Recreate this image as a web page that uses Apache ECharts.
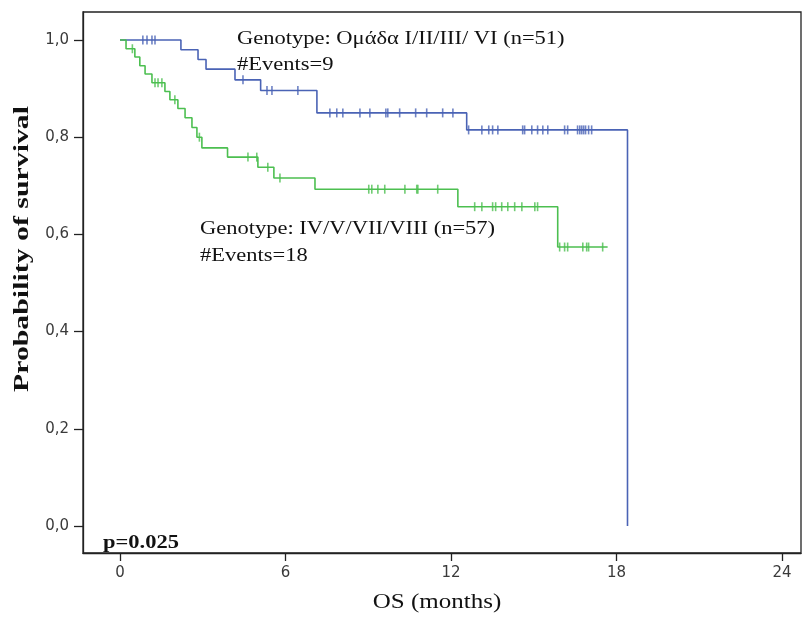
<!DOCTYPE html>
<html>
<head>
<meta charset="utf-8">
<script src="https://cdn.jsdelivr.net/npm/echarts@6/dist/echarts.min.js"></script>
<style>
html, body { margin: 0; padding: 0; background: #fff; }
#chart { width: 804px; height: 617px; }
</style>
</head>
<body>
<div id="chart"></div>
<script>
// tick values
var xTicks = [0, 6, 12, 18, 24];
var yTicks = [0, 0.2, 0.4, 0.6, 0.8, 1.0];

// group I/II/III/VI (blue) - survival steps [months, survival]
var blueSteps = [[0, 1], [2.21, 0.98], [2.83, 0.96], [3.12, 0.94], [4.17, 0.918], [5.1, 0.896],
  [7.14, 0.85], [12.57, 0.815], [18.4, 0]];
// censored cases
var blueCensored = [[0.83, 1], [0.98, 1], [1.16, 1], [1.27, 1], [4.46, 0.918],
  [5.33, 0.896], [5.51, 0.896], [6.45, 0.896],
  [7.61, 0.85], [7.86, 0.85], [8.08, 0.85], [8.7, 0.85], [9.06, 0.85], [9.64, 0.85], [9.71, 0.85],
  [10.14, 0.85], [10.72, 0.85], [11.12, 0.85], [11.7, 0.85], [12.07, 0.85],
  [12.64, 0.815], [13.12, 0.815], [13.37, 0.815], [13.51, 0.815], [13.7, 0.815], [14.6, 0.815],
  [14.67, 0.815], [14.93, 0.815], [15.14, 0.815], [15.33, 0.815], [15.51, 0.815], [16.12, 0.815],
  [16.23, 0.815], [16.59, 0.815], [16.67, 0.815], [16.74, 0.815], [16.81, 0.815], [16.88, 0.815],
  [16.99, 0.815], [17.1, 0.815]];

// group IV/V/VII/VIII (green)
var greenSteps = [[0, 1], [0.22, 0.982], [0.54, 0.965], [0.72, 0.947], [0.91, 0.93], [1.16, 0.912],
  [1.63, 0.894], [1.81, 0.877], [2.1, 0.859], [2.36, 0.84], [2.61, 0.82], [2.79, 0.8], [2.97, 0.778],
  [3.9, 0.759], [5.0, 0.738], [5.58, 0.716], [7.07, 0.693], [12.25, 0.657], [15.87, 0.574], [17.68, 0.574]];
var greenCensored = [[0.45, 0.982], [1.27, 0.912], [1.38, 0.912], [1.52, 0.912], [1.99, 0.877],
  [2.88, 0.8], [4.64, 0.759], [4.96, 0.759], [5.36, 0.738], [5.8, 0.716],
  [9.02, 0.693], [9.13, 0.693], [9.35, 0.693], [9.6, 0.693], [10.33, 0.693], [10.76, 0.693],
  [10.8, 0.693], [11.52, 0.693],
  [12.86, 0.657], [13.12, 0.657], [13.51, 0.657], [13.62, 0.657], [13.84, 0.657], [14.06, 0.657],
  [14.31, 0.657], [14.57, 0.657], [15.04, 0.657], [15.14, 0.657],
  [15.94, 0.574], [16.12, 0.574], [16.23, 0.574], [16.78, 0.574], [16.92, 0.574], [16.99, 0.574],
  [17.5, 0.574]];

var BLUE = '#4a63b5';
var GREEN = '#4cbf50';
var serif = '"Liberation Serif", "Times New Roman", serif';
var tickFont = '"DejaVu Sans", sans-serif';

// the original picture is stretched sideways, so the texts are widened a bit
function label(text, x, y, font, opts) {
  return Object.assign({
    type: 'text', x: x, y: y, scaleX: 1.25,
    style: { text: text, font: font, fill: '#111', textAlign: 'left', textVerticalAlign: 'middle' }
  }, opts || {});
}

var chart = echarts.init(document.getElementById('chart'));
chart.setOption({
  animation: false,
  grid: {
    left: 83, top: 12, right: 3, bottom: 64,
    show: true, borderColor: '#222', borderWidth: 1.3
  },
  xAxis: {
    type: 'value',
    min: -1.34, max: 24.69,
    axisLine: { show: true, onZero: false, lineStyle: { color: '#222', width: 1.3 } },
    splitLine: { show: false },
    axisTick: { show: true, length: 8, customValues: xTicks, lineStyle: { color: '#222', width: 1.3 } },
    axisLabel: { customValues: xTicks, color: '#3a3a3a', fontSize: 15, fontFamily: tickFont, margin: 13 }
  },
  yAxis: {
    type: 'value',
    min: -0.0556, max: 1.0576,
    axisLine: { show: true, onZero: false, lineStyle: { color: '#222', width: 1.3 } },
    splitLine: { show: false },
    axisTick: { show: true, length: 9, customValues: yTicks, lineStyle: { color: '#222', width: 1.3 } },
    axisLabel: {
      customValues: yTicks, color: '#3a3a3a', fontSize: 15, margin: 14, fontFamily: tickFont,
      formatter: function (v) { return v.toFixed(1).replace('.', ','); }
    }
  },
  series: [
    {
      type: 'line', step: 'end', data: blueSteps, symbol: 'none',
      lineStyle: { color: BLUE, width: 1.6 }
    },
    {
      type: 'line', step: 'end', data: greenSteps, symbol: 'none',
      lineStyle: { color: GREEN, width: 1.6 }
    },
    {
      type: 'scatter', data: blueCensored, symbol: 'rect', symbolSize: [1.6, 9],
      itemStyle: { color: BLUE }
    },
    {
      type: 'scatter', data: greenCensored, symbol: 'rect', symbolSize: [1.6, 9],
      itemStyle: { color: GREEN }
    }
  ],
  graphic: [
    label('Genotype: Ομάδα I/II/III/ VI (n=51)', 237, 39, '18px ' + serif),
    label('#Events=9', 237, 65, '18px ' + serif),
    label('Genotype: IV/V/VII/VIII (n=57)', 200, 229, '18px ' + serif),
    label('#Events=18', 200, 256, '18px ' + serif),
    label('p=0.025', 103, 543, 'bold 18px ' + serif),
    // axis titles
    label('OS (months)', 437, 603, '20px ' + serif, { style: { text: 'OS (months)', font: '20px ' + serif, fill: '#111', textAlign: 'center', textVerticalAlign: 'middle' } }),
    label('Probability of survival', 23, 249, 'bold 21px ' + serif, {
      rotation: Math.PI / 2, scaleX: 1.42,
      style: { text: 'Probability of survival', font: 'bold 21px ' + serif, fill: '#111', textAlign: 'center', textVerticalAlign: 'middle' }
    })
  ]
});
</script>
</body>
</html>
